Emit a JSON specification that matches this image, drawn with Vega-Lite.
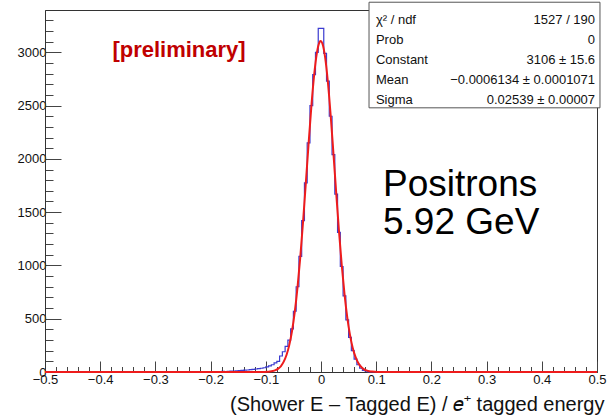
{
  "$schema": "https://vega.github.io/schema/vega-lite/v6.json",
  "width": 552,
  "height": 362,
  "autosize": {"type": "none"},
  "padding": {"left": 45, "top": 10, "right": 10, "bottom": 48},
  "background": "white",
  "config": {
    "view": {"stroke": "#333333", "strokeWidth": 1},
    "font": "Liberation Sans"
  },
  "datasets": {
    "hist": [
      {"x": -0.5, "n": 0},
      {"x": -0.2, "n": 2}, {"x": -0.195, "n": 3}, {"x": -0.19, "n": 2}, {"x": -0.185, "n": 4},
      {"x": -0.18, "n": 5}, {"x": -0.175, "n": 4}, {"x": -0.17, "n": 6}, {"x": -0.165, "n": 8},
      {"x": -0.16, "n": 9}, {"x": -0.155, "n": 11}, {"x": -0.15, "n": 12}, {"x": -0.145, "n": 15},
      {"x": -0.14, "n": 17}, {"x": -0.135, "n": 19}, {"x": -0.13, "n": 22}, {"x": -0.125, "n": 24},
      {"x": -0.12, "n": 28}, {"x": -0.115, "n": 31}, {"x": -0.11, "n": 35}, {"x": -0.105, "n": 40},
      {"x": -0.1, "n": 48}, {"x": -0.095, "n": 58}, {"x": -0.09, "n": 68}, {"x": -0.085, "n": 85},
      {"x": -0.08, "n": 100}, {"x": -0.075, "n": 150}, {"x": -0.07, "n": 190}, {"x": -0.065, "n": 240},
      {"x": -0.06, "n": 300}, {"x": -0.055, "n": 405}, {"x": -0.05, "n": 570}, {"x": -0.045, "n": 800},
      {"x": -0.04, "n": 1085}, {"x": -0.035, "n": 1420}, {"x": -0.03, "n": 1775}, {"x": -0.025, "n": 2150},
      {"x": -0.02, "n": 2500}, {"x": -0.015, "n": 2790}, {"x": -0.01, "n": 3000}, {"x": -0.005, "n": 3225},
      {"x": 0.0, "n": 3225}, {"x": 0.005, "n": 2990}, {"x": 0.01, "n": 2730}, {"x": 0.015, "n": 2400},
      {"x": 0.02, "n": 2040}, {"x": 0.025, "n": 1670}, {"x": 0.03, "n": 1310}, {"x": 0.035, "n": 990},
      {"x": 0.04, "n": 715}, {"x": 0.045, "n": 490}, {"x": 0.05, "n": 325}, {"x": 0.055, "n": 200},
      {"x": 0.06, "n": 120}, {"x": 0.065, "n": 68}, {"x": 0.07, "n": 35}, {"x": 0.075, "n": 16},
      {"x": 0.08, "n": 7}, {"x": 0.085, "n": 2}, {"x": 0.09, "n": 0}, {"x": 0.5, "n": 0}
    ],
    "fit": [
      {"x": -0.5, "f": 0}, {"x": -0.11, "f": 0.3}, {"x": -0.1025, "f": 1.0}, {"x": -0.0975, "f": 2.1},
      {"x": -0.0925, "f": 4.5}, {"x": -0.0875, "f": 8.9}, {"x": -0.0825, "f": 17}, {"x": -0.0775, "f": 32},
      {"x": -0.0725, "f": 56}, {"x": -0.0675, "f": 97}, {"x": -0.0625, "f": 159}, {"x": -0.0575, "f": 252},
      {"x": -0.0525, "f": 385}, {"x": -0.0475, "f": 564}, {"x": -0.0425, "f": 796}, {"x": -0.0375, "f": 1080},
      {"x": -0.0325, "f": 1410}, {"x": -0.0275, "f": 1772}, {"x": -0.0225, "f": 2141}, {"x": -0.0175, "f": 2489},
      {"x": -0.0125, "f": 2783}, {"x": -0.0075, "f": 2993}, {"x": -0.0025, "f": 3097}, {"x": -0.0006, "f": 3106},
      {"x": 0.0025, "f": 3083}, {"x": 0.0075, "f": 2952}, {"x": 0.0125, "f": 2719}, {"x": 0.0175, "f": 2409},
      {"x": 0.0225, "f": 2053}, {"x": 0.0275, "f": 1684}, {"x": 0.0325, "f": 1328}, {"x": 0.0375, "f": 1008},
      {"x": 0.0425, "f": 736}, {"x": 0.0475, "f": 516}, {"x": 0.0525, "f": 349}, {"x": 0.0575, "f": 226},
      {"x": 0.0625, "f": 142}, {"x": 0.0675, "f": 85}, {"x": 0.0725, "f": 49}, {"x": 0.0775, "f": 27},
      {"x": 0.0825, "f": 15}, {"x": 0.0875, "f": 7.5}, {"x": 0.0925, "f": 3.7}, {"x": 0.0975, "f": 1.8},
      {"x": 0.1025, "f": 0.8}, {"x": 0.11, "f": 0.2}, {"x": 0.5, "f": 0}
    ]
  },
  "layer": [
    {
      "data": {"name": "hist"},
      "mark": {"type": "line", "interpolate": "step-after", "color": "#3b3bd0", "strokeWidth": 1.2},
      "encoding": {
        "x": {
          "field": "x", "type": "quantitative",
          "scale": {"domain": [-0.5, 0.5], "nice": false, "zero": false},
          "axis": {
            "title": "(Shower E – Tagged E) / 𝑒⁺ tagged energy",
            "titleFont": "Liberation Sans", "titleFontSize": 20, "titleFontWeight": "normal", "titleColor": "#111111",
            "titleAlign": "right", "titleAnchor": "end", "titleX": 559, "titleY": 38, "titleBaseline": "alphabetic",
            "tickCount": 200,
            "values": [-0.5,-0.48,-0.46,-0.44,-0.42,-0.4,-0.38,-0.36,-0.34,-0.32,-0.3,-0.28,-0.26,-0.24,-0.22,-0.2,-0.18,-0.16,-0.14,-0.12,-0.1,-0.08,-0.06,-0.04,-0.02,0,0.02,0.04,0.06,0.08,0.1,0.12,0.14,0.16,0.18,0.2,0.22,0.24,0.26,0.28,0.3,0.32,0.34,0.36,0.38,0.4,0.42,0.44,0.46,0.48,0.5],
            "labelExpr": "abs(datum.value*10 - round(datum.value*10)) < 0.001 ? (abs(datum.value) < 0.001 ? '0' : format(datum.value, '.1f')) : ''",
            "tickSize": {"condition": {"test": "abs(datum.value*10 - round(datum.value*10)) < 0.001", "value": -11}, "value": -5.5},
            "tickColor": "#444444", "tickWidth": 1,
            "domainColor": "#333333",
            "grid": false,
            "labelFont": "Liberation Sans", "labelFontSize": 13, "labelColor": "#111111",
            "labelPadding": 12, "labelFlush": false, "labelOverlap": false
          }
        },
        "y": {
          "field": "n", "type": "quantitative",
          "scale": {"domain": [0, 3397], "nice": false},
          "axis": {
            "title": null,
            "tickCount": 200,
            "values": [0,100,200,300,400,500,600,700,800,900,1000,1100,1200,1300,1400,1500,1600,1700,1800,1900,2000,2100,2200,2300,2400,2500,2600,2700,2800,2900,3000,3100,3200,3300],
            "labelExpr": "datum.value % 500 == 0 ? format(datum.value, 'd') : ''",
            "tickSize": {"condition": {"test": "datum.value % 500 == 0", "value": -16}, "value": -8},
            "tickColor": "#444444", "tickWidth": 1,
            "domainColor": "#333333",
            "grid": false,
            "labelFont": "Liberation Sans", "labelFontSize": 13, "labelColor": "#111111",
            "labelPadding": 15, "labelOverlap": false, "labelFlush": false
          }
        }
      }
    },
    {
      "data": {"name": "fit"},
      "mark": {"type": "line", "interpolate": "monotone", "color": "#ee1c1c", "strokeWidth": 2},
      "encoding": {
        "x": {"field": "x", "type": "quantitative"},
        "y": {"field": "f", "type": "quantitative"}
      }
    },
    {
      "data": {"values": [{}]},
      "mark": {"type": "rect", "fill": "white", "stroke": "#555555", "strokeWidth": 1, "clip": false},
      "encoding": {
        "x": {"datum": 0.087, "type": "quantitative"},
        "x2": {"datum": 0.5054},
        "y": {"datum": 3470, "type": "quantitative"},
        "y2": {"datum": 2479}
      }
    },
    {
      "data": {"values": [{}]},
      "mark": {"type": "text", "align": "left", "baseline": "middle", "font": "Liberation Sans", "fontSize": 13, "color": "#111111", "lineHeight": 20},
      "encoding": {
        "x": {"datum": 0.0995, "type": "quantitative"},
        "y": {"datum": 3305, "type": "quantitative"},
        "text": {"value": ["χ² / ndf", "Prob", "Constant", "Mean", "Sigma"]}
      }
    },
    {
      "data": {"values": [{}]},
      "mark": {"type": "text", "align": "right", "baseline": "middle", "font": "Liberation Sans", "fontSize": 13, "color": "#111111", "lineHeight": 20},
      "encoding": {
        "x": {"datum": 0.4965, "type": "quantitative"},
        "y": {"datum": 3305, "type": "quantitative"},
        "text": {"value": ["1527 / 190", "0", "3106 ± 15.6", "−0.0006134 ± 0.0001071", "0.02539 ± 0.00007"]}
      }
    },
    {
      "data": {"values": [{}]},
      "mark": {"type": "text", "align": "center", "baseline": "middle", "font": "Liberation Sans", "fontWeight": "bold", "fontSize": 22, "color": "#c00000"},
      "encoding": {
        "x": {"datum": -0.2572, "type": "quantitative"},
        "y": {"datum": 3023, "type": "quantitative"},
        "text": {"value": "[preliminary]"}
      }
    },
    {
      "data": {"values": [{}]},
      "mark": {"type": "text", "align": "left", "baseline": "alphabetic", "font": "Liberation Sans", "fontSize": 37, "color": "#000000"},
      "encoding": {
        "x": {"datum": 0.1123, "type": "quantitative"},
        "y": {"datum": 1653, "type": "quantitative"},
        "text": {"value": "Positrons"}
      }
    },
    {
      "data": {"values": [{}]},
      "mark": {"type": "text", "align": "left", "baseline": "alphabetic", "font": "Liberation Sans", "fontSize": 37, "color": "#000000"},
      "encoding": {
        "x": {"datum": 0.1123, "type": "quantitative"},
        "y": {"datum": 1296, "type": "quantitative"},
        "text": {"value": "5.92 GeV"}
      }
    }
  ]
}
